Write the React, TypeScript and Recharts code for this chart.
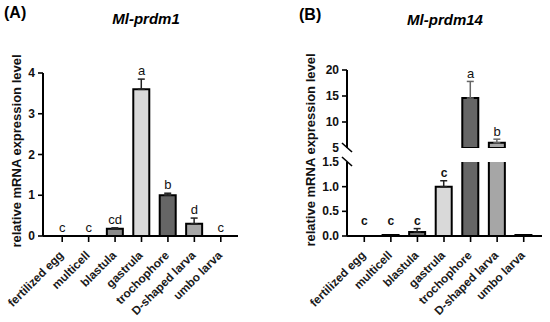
import React from "react";
import { ComposedChart, Bar, Line, XAxis, YAxis, ErrorBar, Cell, LabelList } from "recharts";

const stages = [
  "fertilized egg",
  "multicell",
  "blastula",
  "gastrula",
  "trochophore",
  "D-shaped larva",
  "umbo larva",
];

// Ml-prdm1
const prdm1Mean = [0, 0, 0.18, 3.6, 1.0, 0.3, 0];
const prdm1Err = [0, 0, 0.02, 0.25, 0.05, 0.14, 0];
const prdm1Letters = ["c", "c", "cd", "a", "b", "d", "c"];
const prdm1Ticks = [0, 1, 2, 3, 4];

// Ml-prdm14 (broken axis)
const prdm14Mean = [0, 0.02, 0.08, 1.0, 14.6, 6.0, 0.02];
const prdm14Err = [0, 0, 0.07, 0.12, 3.2, 0.7, 0];
const prdm14Letters = ["c", "c", "c", "c", "a", "b", ""];
const lowTicks = [0, 0.5, 1.0, 1.5];
const highTicks = [5, 10, 15, 20];
const breakLow = 1.5;
const breakHigh = 5;

const fillsA = ["#ffffff", "#ffffff", "#8a8a8a", "#d9d9d9", "#666666", "#a6a6a6", "#ffffff"];
const fillsB = ["#ffffff", "#ffffff", "#6e6e6e", "#d9d9d9", "#666666", "#a6a6a6", "#ffffff"];

const FONT = '"Liberation Sans", Arial, Helvetica, sans-serif';

const dataA = stages.map((stage, i) => ({
  stage,
  mean: prdm1Mean[i],
  err: prdm1Err[i],
  letter: prdm1Letters[i],
  top: prdm1Mean[i] + prdm1Err[i],
}));

const dataBLow = stages.map((stage, i) => ({
  stage,
  mean: prdm14Mean[i],
  err: prdm14Mean[i] + prdm14Err[i] <= breakLow ? prdm14Err[i] : 0,
  letter: prdm14Mean[i] < breakLow ? prdm14Letters[i] : "",
  top: prdm14Mean[i] < breakLow ? Math.max(prdm14Mean[i] + prdm14Err[i], 0.15) : null,
}));

const dataBHigh = stages.map((stage, i) => ({
  stage,
  mean: prdm14Mean[i] > breakHigh ? prdm14Mean[i] : null,
  err: prdm14Mean[i] > breakHigh ? prdm14Err[i] : 0,
  letter: prdm14Mean[i] > breakHigh ? prdm14Letters[i] : "",
  top: prdm14Mean[i] > breakHigh ? prdm14Mean[i] + prdm14Err[i] : null,
}));

const errUp = (d: any) => (d.err ? [0, d.err] : null);

const TICK_SIZE = 5;
const TICK_MARGIN = 3;

function XTick(props: any) {
  const { x, y, payload } = props;
  return (
    <g transform={`translate(${x + 2},${y + 12}) rotate(-45)`}>
      <text
        x={0}
        y={0}
        textAnchor="end"
        fontSize={11.8}
        fontWeight="bold"
        fontFamily={FONT}
        style={{ fill: "#1a1a1a" }}
      >
        {payload.value}
      </text>
    </g>
  );
}

function makeYTick(breakAt: number | null, fmt: (v: number) => string) {
  return (props: any) => {
    const { x, y, payload } = props;
    const v = payload.value;
    const ax = x + TICK_SIZE + TICK_MARGIN;
    return (
      <g>
        {breakAt !== null && v === breakAt ? (
          <line x1={ax - 5} y1={y - 5} x2={ax + 5} y2={y + 4} stroke="#000" strokeWidth={1.6} />
        ) : (
          <line x1={ax - TICK_SIZE} y1={y} x2={ax} y2={y} stroke="#000" strokeWidth={1.6} />
        )}
        <text x={x} y={y} dy={4} textAnchor="end" fontSize={12} fontWeight="bold" fontFamily={FONT} style={{ fill: "#111" }}>
          {fmt(v)}
        </text>
      </g>
    );
  };
}

function makeLetter(offset: number, bold: boolean) {
  return (props: any) => {
    const { x, y, value } = props;
    if (!value || y == null || isNaN(y)) return null;
    return (
      <text
        x={x}
        y={y - offset}
        textAnchor="middle"
        fontSize={bold ? 12 : 13}
        fontWeight={bold ? "bold" : "normal"}
        fontFamily={FONT}
        style={{ fill: "#111", stroke: "none" }}
      >
        {value}
      </text>
    );
  };
}

const axisLine = { stroke: "#000", strokeWidth: 2 };

function YLabel({ cx, cy }: { cx: number; cy: number }) {
  return (
    <div
      style={{
        position: "absolute",
        left: cx - 120,
        top: cy - 9,
        width: 240,
        height: 18,
        lineHeight: "18px",
        textAlign: "center",
        fontSize: 13,
        fontWeight: "bold",
        color: "#111",
        transform: "rotate(-90deg)",
        whiteSpace: "nowrap",
      }}
    >
      relative mRNA expression level
    </div>
  );
}

export default function App() {
  return (
    <div
      style={{
        position: "absolute",
        left: 0,
        top: 0,
        width: 550,
        height: 322,
        background: "#fff",
        fontFamily: FONT,
        overflow: "hidden",
      }}
    >
      {/* Panel A */}
      <div style={{ position: "absolute", left: 0, top: 0 }}>
        <ComposedChart width={275} height={322} data={dataA} margin={{ top: 73, right: 37, left: 0, bottom: 0 }}>
          <XAxis
            dataKey="stage"
            interval={0}
            height={86}
            padding={{ left: 6, right: 4 }}
            axisLine={axisLine}
            tickLine={{ stroke: "#000", strokeWidth: 1.6 }}
            tickSize={6}
            tick={<XTick />}
          />
          <YAxis
            width={43}
            domain={[0, 4]}
            ticks={prdm1Ticks}
            interval={0}
            axisLine={axisLine}
            tickLine={false}
            tickSize={TICK_SIZE}
            tickMargin={TICK_MARGIN}
            tick={makeYTick(null, (v) => String(v))}
          />
          <Bar dataKey="mean" barSize={16} stroke="#000" strokeWidth={2} isAnimationActive={false}>
            {dataA.map((d, i) => (
              <Cell key={d.stage} fill={fillsA[i]} />
            ))}
            <ErrorBar dataKey={errUp} width={3.5} stroke="#222" strokeWidth={1.5} direction="y" />
          </Bar>
          <Line dataKey="top" stroke="none" dot={false} activeDot={false} isAnimationActive={false}>
            <LabelList dataKey="letter" content={makeLetter(4, false)} />
          </Line>
        </ComposedChart>
      </div>

      {/* Panel B, lower segment */}
      <div style={{ position: "absolute", left: 275, top: 0 }}>
        <ComposedChart width={275} height={322} data={dataBLow} margin={{ top: 162, right: 8, left: 0, bottom: 0 }}>
          <XAxis
            dataKey="stage"
            interval={0}
            height={86}
            padding={{ left: 4, right: 5 }}
            axisLine={axisLine}
            tickLine={{ stroke: "#000", strokeWidth: 1.6 }}
            tickSize={6}
            tick={<XTick />}
          />
          <YAxis
            width={72}
            domain={[0, breakLow]}
            allowDataOverflow
            ticks={lowTicks}
            interval={0}
            axisLine={axisLine}
            tickLine={false}
            tickSize={TICK_SIZE}
            tickMargin={TICK_MARGIN}
            tick={makeYTick(breakLow, (v) => v.toFixed(1))}
          />
          <Bar dataKey="mean" barSize={16} stroke="#000" strokeWidth={2} isAnimationActive={false}>
            {dataBLow.map((d, i) => (
              <Cell key={d.stage} fill={fillsB[i]} />
            ))}
            <ErrorBar dataKey={errUp} width={3.5} stroke="#222" strokeWidth={1.5} direction="y" />
          </Bar>
          <Line dataKey="top" stroke="none" dot={false} activeDot={false} isAnimationActive={false}>
            <LabelList dataKey="letter" content={makeLetter(4, true)} />
          </Line>
        </ComposedChart>
      </div>

      {/* Panel B, upper segment */}
      <div style={{ position: "absolute", left: 275, top: 0 }}>
        <ComposedChart width={275} height={160} data={dataBHigh} margin={{ top: 70, right: 8, left: 0, bottom: 12 }}>
          <XAxis dataKey="stage" hide padding={{ left: 4, right: 5 }} />
          <YAxis
            width={72}
            domain={[breakHigh, 20]}
            allowDataOverflow
            ticks={highTicks}
            interval={0}
            axisLine={axisLine}
            tickLine={false}
            tickSize={TICK_SIZE}
            tickMargin={TICK_MARGIN}
            tick={makeYTick(breakHigh, (v) => String(v))}
          />
          <Bar dataKey="mean" barSize={16} stroke="#000" strokeWidth={2} isAnimationActive={false}>
            {dataBHigh.map((d, i) => (
              <Cell key={d.stage} fill={fillsB[i]} />
            ))}
            <ErrorBar dataKey={errUp} width={3.5} stroke="#666" strokeWidth={1.5} direction="y" />
          </Bar>
          <Line dataKey="top" stroke="none" dot={false} activeDot={false} isAnimationActive={false}>
            <LabelList dataKey="letter" content={makeLetter(3, false)} />
          </Line>
        </ComposedChart>
      </div>

      <YLabel cx={17} cy={151} />
      <YLabel cx={311} cy={150} />

      <div style={{ position: "absolute", left: 4, top: 4, fontSize: 16, lineHeight: "18px", fontWeight: "bold" }}>(A)</div>
      <div
        style={{
          position: "absolute",
          left: 46,
          width: 200,
          top: 10,
          textAlign: "center",
          fontSize: 15,
          lineHeight: "18px",
          fontWeight: "bold",
          fontStyle: "italic",
        }}
      >
        Ml-prdm1
      </div>
      <div style={{ position: "absolute", left: 299, top: 6, fontSize: 16, lineHeight: "18px", fontWeight: "bold" }}>(B)</div>
      <div
        style={{
          position: "absolute",
          left: 345,
          width: 200,
          top: 11,
          textAlign: "center",
          fontSize: 15,
          lineHeight: "18px",
          fontWeight: "bold",
          fontStyle: "italic",
        }}
      >
        Ml-prdm14
      </div>
    </div>
  );
}
